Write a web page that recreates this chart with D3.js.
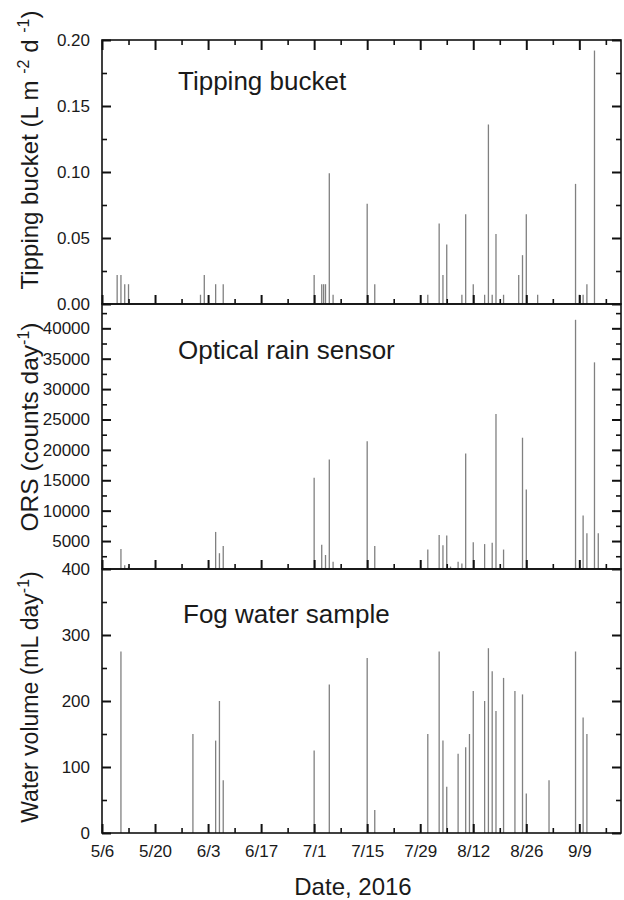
<!DOCTYPE html>
<html><head><meta charset="utf-8">
<script src="https://cdn.jsdelivr.net/npm/d3@7"></script>
<style>
body{margin:0;background:#fff}
svg{display:block}
</style>
</head><body>
<svg id="c" width="624" height="900"></svg>
<script>
// ---------------- data ----------------
const tbDates = ["2016-05-10","2016-05-11","2016-05-12","2016-05-13","2016-06-01","2016-06-02","2016-06-05","2016-06-07",
  "2016-07-01","2016-07-03","2016-07-03T12:00Z","2016-07-04","2016-07-05","2016-07-06","2016-07-15","2016-07-17","2016-07-31",
  "2016-08-03","2016-08-04","2016-08-05","2016-08-09","2016-08-10","2016-08-12","2016-08-15","2016-08-16","2016-08-17",
  "2016-08-18","2016-08-20","2016-08-24","2016-08-25","2016-08-26","2016-08-29","2016-09-08","2016-09-09","2016-09-10",
  "2016-09-11","2016-09-13"];
const tbValues = [0.022,0.022,0.015,0.015,0.007,0.022,0.015,0.015,
  0.022,0.015,0.015,0.015,0.099,0.007,0.076,0.015,0.007,
  0.061,0.022,0.045,0.007,0.068,0.015,0.007,0.136,0.007,
  0.053,0.007,0.022,0.037,0.068,0.007,0.091,0.007,0.007,
  0.015,0.192];

const orsDates = ["2016-05-11","2016-05-12","2016-05-13","2016-06-05","2016-06-06","2016-06-07","2016-07-01","2016-07-03",
  "2016-07-04","2016-07-05","2016-07-06","2016-07-15","2016-07-17","2016-07-31","2016-08-03","2016-08-04","2016-08-05",
  "2016-08-06","2016-08-08","2016-08-09","2016-08-10","2016-08-12","2016-08-15","2016-08-17","2016-08-18","2016-08-20",
  "2016-08-25","2016-08-26","2016-09-08","2016-09-10","2016-09-11","2016-09-13","2016-09-14"];
const orsValues = [3700,1000,800,6500,3000,4200,15400,4400,
  2700,18400,1600,21400,4200,3600,6000,4300,5900,
  800,1600,1300,19400,4800,4500,4700,25900,3600,
  22000,13500,41400,9200,6300,34400,6300];

const fogDates = ["2016-05-11","2016-05-30","2016-06-05","2016-06-06","2016-06-07","2016-07-01","2016-07-05","2016-07-15",
  "2016-07-17","2016-07-31","2016-08-03","2016-08-04","2016-08-05","2016-08-08","2016-08-10","2016-08-11","2016-08-12",
  "2016-08-15","2016-08-16","2016-08-17","2016-08-18","2016-08-20","2016-08-23","2016-08-25","2016-08-26","2016-09-01",
  "2016-09-08","2016-09-10","2016-09-11"];
const fogValues = [275,150,140,200,80,125,225,265,
  35,150,275,140,70,120,130,150,215,
  200,280,245,185,235,215,210,60,80,
  275,175,150];

const xTickLabels = ["5/6","5/20","6/3","6/17","7/1","7/15","7/29","8/12","8/26","9/9"];
const tbTicks = [0,0.05,0.10,0.15,0.20];
const tbMinor = [0.025,0.075,0.125,0.175];
const orsTicks = [400,5000,10000,15000,20000,25000,30000,35000,40000];
const orsMinor = [2500,7500,12500,17500,22500,27500,32500,37500,42500];
const fogTicks = [0,100,200,300];
const fogMinor = [50,150,250,350];

// ---------------- layout ----------------
const FONT = '"Liberation Sans", Arial, Helvetica, sans-serif';
const INK = "#1a1a1a";
const svg = d3.select("#c");
const L = 102, R = 621;
const panels = [
  {top:40, bottom:304},
  {top:304, bottom:569},
  {top:569, bottom:833}
];

const parseD = s => new Date(s.length === 10 ? s + "T00:00:00Z" : s);
const md = s => { const [m,d] = s.split("/").map(Number); return new Date(Date.UTC(2016, m-1, d)); };

const x = d3.scaleUtc().domain([md("5/6"), md("9/20")]).range([L, R]);
const yTB = d3.scaleLinear().domain([0, 0.20]).range([panels[0].bottom, panels[0].top]);
const yORS = d3.scaleLinear().domain([400, 44000]).range([panels[1].bottom, panels[1].top]);
const yFog = d3.scaleLinear().domain([0, 400]).range([panels[2].bottom, panels[2].top]);

const xMajor = xTickLabels.map(md);
const xMinor = xMajor.map(d => d3.utcDay.offset(d, 7)).filter(d => d < x.domain()[1]);

// ---------------- bars ----------------
function bars(dates, values, y) {
  const base = y.domain()[0];
  svg.append("g").selectAll("line").data(dates.map((d, i) => ({d: parseD(d), v: values[i]})))
    .join("line")
    .attr("x1", p => x(p.d)).attr("x2", p => x(p.d))
    .attr("y1", y(base)).attr("y2", p => y(p.v))
    .attr("stroke", "#808080").attr("stroke-width", 1.3);
}
bars(tbDates, tbValues, yTB);
bars(orsDates, orsValues, yORS);
bars(fogDates, fogValues, yFog);

// ---------------- axes ----------------
function axis(gen, vals, size, fmt, pad, sw, tr) {
  const g = svg.append("g").attr("transform", tr);
  g.call(gen.tickValues(vals).tickSizeInner(-size).tickSizeOuter(0).tickPadding(pad).tickFormat(fmt));
  g.select(".domain").remove();
  g.attr("font-family", FONT).attr("font-size", 17);
  g.selectAll(".tick line").attr("stroke", "#111").attr("stroke-width", sw);
  g.selectAll(".tick text").attr("fill", INK);
  return g;
}
const none = () => "";

// x axes
panels.forEach((p, i) => {
  const lab = i === 2 ? (d, k) => xTickLabels[k] : none;
  axis(d3.axisBottom(x), xMajor, 9, lab, 12, 2, `translate(0,${p.bottom})`);
  axis(d3.axisBottom(x), xMinor, 5, none, 12, 1.6, `translate(0,${p.bottom})`);
});
axis(d3.axisTop(x), xMajor, 10, none, 4, 2, `translate(0,${panels[0].top})`);
axis(d3.axisTop(x), xMinor, 5, none, 4, 1.6, `translate(0,${panels[0].top})`);

// y axes
const yDefs = [
  {y: yTB, major: tbTicks, minor: tbMinor, fmt: d3.format(".2f")},
  {y: yORS, major: orsTicks, minor: orsMinor, fmt: d3.format("d")},
  {y: yFog, major: fogTicks, minor: fogMinor, fmt: d3.format("d")}
];
yDefs.forEach(def => {
  axis(d3.axisLeft(def.y), def.major, 9, def.fmt, 12, 2, `translate(${L},0)`);
  axis(d3.axisLeft(def.y), def.minor, 5, none, 12, 1.6, `translate(${L},0)`);
  axis(d3.axisRight(def.y), def.major, 9, none, 12, 2, `translate(${R},0)`);
  axis(d3.axisRight(def.y), def.minor, 5, none, 12, 1.6, `translate(${R},0)`);
});

// frames
panels.forEach(p => {
  svg.append("rect").attr("x", L).attr("y", p.top).attr("width", R - L).attr("height", p.bottom - p.top)
    .attr("fill", "none").attr("stroke", "#111").attr("stroke-width", 1.6);
});

// ---------------- text ----------------
function txt(xp, yp, s, size, anchor) {
  return svg.append("text").attr("x", xp).attr("y", yp).text(s)
    .attr("font-family", FONT).attr("font-size", size).attr("fill", INK).attr("text-anchor", anchor || "start");
}
txt(178, 90, "Tipping bucket", 26);
txt(178, 359, "Optical rain sensor", 26);
txt(183, 623, "Fog water sample", 26);
txt(353, 895, "Date, 2016", 24, "middle");

function yTitle(cy, size, parts) {
  const t = svg.append("text").attr("transform", `translate(38,${cy}) rotate(-90)`)
    .attr("text-anchor", "middle").attr("font-family", FONT).attr("font-size", size).attr("fill", INK);
  let shifted = false;
  parts.forEach(([s, sup]) => {
    const ts = t.append("tspan").text(s);
    if (sup && !shifted) { ts.attr("dy", -9).attr("font-size", 16); shifted = true; }
    else if (!sup && shifted) { ts.attr("dy", 9); shifted = false; }
  });
}
yTitle(150, 24, [["Tipping bucket (L m "], ["-2", true], [" d "], ["-1", true], [")"]]);
yTitle(427, 24.5, [["ORS (counts day"], ["-1", true], [")"]]);
yTitle(697, 23, [["Water volume (mL day"], ["-1", true], [")"]]);
</script>
</body></html>
